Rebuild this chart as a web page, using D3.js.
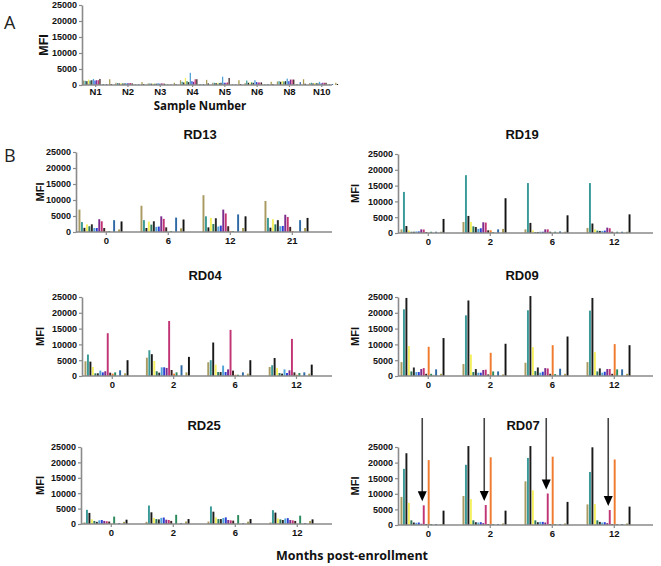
<!DOCTYPE html>
<html><head><meta charset="utf-8">
<script src="https://cdn.jsdelivr.net/npm/d3@7"></script>
<style>body{margin:0;background:#fff}svg{display:block}</style>
</head><body>
<svg id="c" width="661" height="566"></svg>
<script>
const seriesColors = ["#a89a60","#3a9a98","#1c1c1c","#f4f060","#2e7a5a","#2a2a2a","#4fa3d6","#2b3fd0","#7b2d8e","#c23575","#3b2323","#f07a2e","#2a8a5c","#c0c0c0","#2f6aa5","#555555","#a89a50","#141414"];
const yTicks = [0,5000,10000,15000,20000,25000];

const sampleGroups = ["N1","N2","N3","N4","N5","N6","N8","N10"];
const sampleValues = [
  [1400,1300,1200,1700,1400,1500,1900,1400,1500,1500,1900,0,300,0,300,0,1800,300],
  [700,600,500,600,500,500,600,500,600,600,500,0,200,0,200,0,900,300],
  [500,500,400,500,400,400,600,400,500,500,400,0,200,0,200,0,700,200],
  [1500,1000,800,2200,1200,900,3800,1200,1000,1800,1800,0,300,0,300,0,1600,500],
  [700,700,600,700,600,700,2600,700,700,800,2200,0,200,0,200,0,1500,300],
  [600,1400,700,800,800,700,1500,900,800,800,800,0,200,0,300,0,1000,300],
  [1100,1200,1000,1300,1100,1200,2000,1200,1700,1700,1700,0,300,0,900,0,1800,400],
  [600,700,500,600,600,500,1000,500,700,700,700,0,200,0,300,0,700,300]
];

const rd13Months = ["0","6","12","21"];
const rd13Values = [
  [7000,3100,1300,2400,1800,2400,1250,1250,4000,3350,1250,200,300,0,3700,0,800,3300],
  [8200,3700,1250,3250,2300,3350,1600,1700,4900,4100,1450,0,300,0,4500,0,1150,3900],
  [11500,4900,1450,4400,2500,4300,1700,2000,7000,5800,1800,300,300,0,5500,0,1250,4900],
  [9700,4400,1350,4000,2400,3700,1800,1900,5400,4700,1600,300,0,0,3700,0,1250,4400]
];
const rd19Months = ["0","2","6","12"];
const rd19Values = [
  [1150,13000,2200,850,400,400,500,500,1150,1100,300,0,400,0,400,0,400,4450],
  [3500,18300,5400,3500,2100,1900,1300,1500,3400,3300,850,850,300,0,1150,0,1300,11000],
  [1150,15800,3200,850,300,300,400,400,1150,1150,400,0,400,0,500,0,400,5600],
  [1600,15800,3000,1150,750,650,650,750,1700,1500,400,0,400,0,400,0,400,5900]
];
const rd04Months = ["0","2","6","12"];
const rd04Values = [
  [4650,6800,4550,2850,850,850,1700,1150,1500,13550,1050,750,1150,0,1800,0,850,5000],
  [5800,8150,6900,4750,1500,1050,2750,2750,2550,17400,1900,750,1150,0,3400,0,1150,6050],
  [4350,5000,10600,3600,1250,1250,3300,1250,2100,14600,1700,400,400,0,1150,0,750,5000],
  [2850,3400,5700,2550,950,750,2100,950,1800,11750,1150,400,950,0,1150,0,750,3600]
];
const rd09Months = ["0","2","6","12"];
const rd09Values = [
  [4400,21100,24700,9450,1450,2700,1250,1250,2200,2500,700,9250,700,400,2100,0,700,12000],
  [3800,19200,23900,6800,1250,2200,1050,1050,1900,2000,500,7350,1450,0,1450,0,500,10200],
  [4200,20800,25300,9150,1550,2700,1050,1350,2500,2400,700,9750,600,400,2300,0,700,12500],
  [4400,20700,24700,7550,1450,2400,1050,1350,2200,2200,700,10100,2100,0,2100,0,700,9750]
];
const rd25Months = ["0","2","6","12"];
const rd25Values = [
  [500,4600,3600,1500,1000,700,1200,1300,1000,900,800,0,2400,0,300,0,700,1400],
  [700,6000,3800,2000,1600,1500,2000,2100,1400,1300,1000,0,3000,0,300,0,800,1600],
  [800,5700,4000,2150,1600,1600,1950,2150,1300,1200,1100,0,2900,0,300,0,750,1600],
  [500,4500,3700,1800,1500,1300,1800,1900,1300,1200,1000,0,2700,0,300,0,1000,1500]
];
const rd07Months = ["0","2","6","12"];
const rd07Values = [
  [9000,18000,23000,7100,1500,800,700,800,400,6300,300,20800,300,0,300,0,200,4600],
  [9300,19300,25300,8300,1500,900,800,900,600,6400,300,21700,300,0,300,0,500,4600],
  [14000,21500,25300,11100,1500,900,1000,1000,800,10100,300,21900,300,0,300,0,500,7400],
  [6600,17000,24900,6700,1500,1000,800,900,600,4800,300,21000,300,0,300,0,500,5900]
];
const rd07ArrowSeries = [9,9,9,9];

const svg = d3.select("#c");
const tickFont = "Liberation Sans, Arial, sans-serif";

function drawPanel(p, groups, values) {
  const g = svg.append("g");
  const y = d3.scaleLinear().domain([0,25000]).range([p.yBot, p.yTop]);
  const n = groups.length;
  const start = p.axisX + p.gap;
  const x0 = d3.scaleBand().domain(groups)
    .range([start, start + p.step*(n-1) + p.gw])
    .paddingInner((p.step - p.gw)/p.step).paddingOuter(0);
  const x1 = d3.scaleBand().domain(d3.range(seriesColors.length))
    .range([0, x0.bandwidth()]).paddingInner(0.22);

  groups.forEach((grp, gi) => {
    g.append("g").selectAll("rect").data(values[gi]).join("rect")
      .attr("x", (d,i) => x0(grp) + x1(i))
      .attr("y", d => y(d))
      .attr("width", x1.bandwidth())
      .attr("height", d => p.yBot - y(d))
      .attr("fill", (d,i) => seriesColors[i]);
  });

  const ya = g.append("g").attr("transform", `translate(${p.axisX},0)`)
    .call(d3.axisLeft(y).tickValues(yTicks).tickSize(3).tickSizeOuter(0).tickPadding(2).tickFormat(d3.format("d")));
  ya.select(".domain").attr("stroke","#8a8a8a").attr("stroke-width",1.6);
  ya.selectAll(".tick line").attr("stroke","#8a8a8a").attr("stroke-width",1.2);
  ya.selectAll(".tick text").attr("font-family",tickFont).attr("font-weight","bold")
    .attr("font-size",p.tickSize).attr("fill","#111");

  const xt = d3.scaleOrdinal().domain(groups).range(groups.map(d => x0(d) + x0.bandwidth()*p.tickFrac));
  const xa = g.append("g").attr("transform", `translate(0,${p.yBot})`)
    .call(d3.axisBottom(xt).tickSize(p.xTickLen).tickSizeOuter(0).tickPadding(p.xTickPad));
  xa.select(".domain").remove();
  xa.selectAll(".tick line").attr("stroke","#8a8a8a").attr("stroke-width",1.2);
  xa.selectAll(".tick text").attr("font-family",tickFont).attr("font-weight","bold")
    .attr("font-size",p.xTickSize).attr("fill","#111");
  g.append("line").attr("x1",p.axisX).attr("x2",p.axisEnd).attr("y1",p.yBot).attr("y2",p.yBot)
    .attr("stroke","#8a8a8a").attr("stroke-width",1.6);

  g.append("text").attr("transform",`translate(${p.mfiX},${(p.yTop+p.yBot)/2}) rotate(-90)`)
    .attr("text-anchor","middle").attr("dominant-baseline","central")
    .attr("font-family",tickFont).attr("font-weight","bold").attr("font-size",p.mfiSize)
    .attr("fill","#111").text("MFI");

  if (p.title) {
    g.append("text").attr("x",p.titleX).attr("y",p.titleY).attr("text-anchor","middle")
      .attr("font-family",tickFont).attr("font-weight","bold").attr("font-size",13)
      .attr("fill","#111").text(p.title);
  }
  return {x0, x1, y};
}

// Panel A
drawPanel({axisX:82, gap:1, step:32.3, gw:29, tickFrac:0.42, yTop:5, yBot:85, axisEnd:332,
  tickSize:9, xTickSize:9.5, xTickLen:2, xTickPad:1, mfiX:44, mfiSize:12.5}, sampleGroups, sampleValues);
svg.append("text").attr("x",200).attr("y",110).attr("text-anchor","middle")
  .attr("font-family","Open Sans, sans-serif").attr("font-weight","bold").attr("font-size",11.5)
  .attr("fill","#111").text("Sample Number");
svg.append("text").attr("x",4).attr("y",29).attr("font-family","Open Sans, sans-serif")
  .attr("font-size",18).attr("fill","#222").text("A");
svg.append("text").attr("x",4).attr("y",162).attr("font-family","Open Sans, sans-serif")
  .attr("font-size",18).attr("fill","#222").text("B");

const common = {gap:2.5, step:62, gw:44, tickFrac:0.62, tickSize:9, xTickSize:9.5, xTickLen:3, xTickPad:2, mfiSize:11};
drawPanel(Object.assign({}, common, {title:"RD13", titleX:200, titleY:139, axisX:76, yTop:152, yBot:232, axisEnd:332, mfiX:40}), rd13Months, rd13Values);
drawPanel(Object.assign({}, common, {title:"RD19", titleX:522, titleY:139, axisX:398, yTop:154, yBot:233, axisEnd:653, mfiX:355}), rd19Months, rd19Values);
drawPanel(Object.assign({}, common, {title:"RD04", titleX:205, titleY:280, axisX:82, step:61.4, yTop:297, yBot:376, axisEnd:332, mfiX:40}), rd04Months, rd04Values);
drawPanel(Object.assign({}, common, {title:"RD09", titleX:522, titleY:280, axisX:398, yTop:297, yBot:376, axisEnd:653, mfiX:355}), rd09Months, rd09Values);
drawPanel(Object.assign({}, common, {title:"RD25", titleX:204, titleY:430, axisX:81, yTop:447, yBot:524, axisEnd:332, mfiX:40}), rd25Months, rd25Values);
const rd07 = drawPanel(Object.assign({}, common, {title:"RD07", titleX:523, titleY:430, axisX:398, yTop:447, yBot:525, axisEnd:653, mfiX:355}), rd07Months, rd07Values);

const arrowTop = 418;
rd07Months.forEach((m, gi) => {
  const si = rd07ArrowSeries[gi];
  const ax = rd07.x0(m) + rd07.x1(si) + rd07.x1.bandwidth()/2 - 1.5;
  const tip = rd07.y(rd07Values[gi][si]) - 4;
  svg.append("line").attr("x1",ax).attr("x2",ax).attr("y1",arrowTop).attr("y2",tip-8)
    .attr("stroke","#444").attr("stroke-width",1.6);
  svg.append("path").attr("d",`M${ax-4.5},${tip-10}L${ax+4.5},${tip-10}L${ax},${tip}Z`).attr("fill","#000");
});

svg.append("text").attr("x",352).attr("y",560).attr("text-anchor","middle")
  .attr("font-family","Open Sans, sans-serif").attr("font-weight","bold").attr("font-size",12.5)
  .attr("fill","#111").text("Months post-enrollment");
</script>
</body></html>
